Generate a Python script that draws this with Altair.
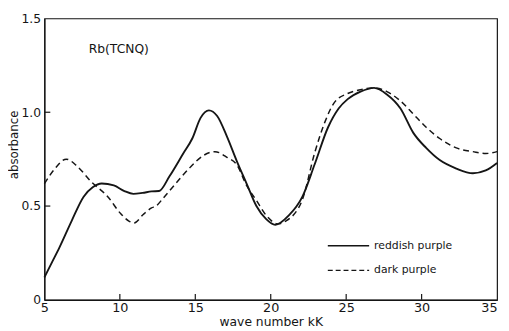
import altair as alt
import pandas as pd

# reddish purple (solid)
solid_x = [5.0, 5.5, 6.0, 6.8, 7.6, 8.2, 8.8, 9.6, 10.3, 10.9, 11.5, 12.1, 12.6, 13.3, 14.2, 14.8,
           15.35, 15.9, 16.45, 17.1, 17.75, 18.4, 19.05, 19.7, 20.3, 21.2, 22.1, 22.9, 23.8, 24.5,
           25.1, 25.95, 26.85, 27.7, 28.6, 29.45, 30.3, 31.2, 32.3, 33.4, 34.25, 35.0]
solid_y = [0.12, 0.20, 0.28, 0.42, 0.55, 0.60, 0.62, 0.61, 0.58, 0.565, 0.57, 0.578, 0.58, 0.66, 0.78, 0.86,
           0.97, 1.01, 0.98, 0.87, 0.74, 0.62, 0.50, 0.43, 0.40, 0.45, 0.55, 0.72, 0.92, 1.02,
           1.07, 1.11, 1.13, 1.095, 1.02, 0.89, 0.81, 0.745, 0.70, 0.675, 0.69, 0.73]

# dark purple (dashed)
dashed_x = [5.0, 5.7, 6.45, 7.2, 8.1, 9.2, 10.05, 10.6, 10.95, 11.55, 12.1, 12.4, 12.85, 13.7, 14.7,
            15.55, 16.3, 17.1, 17.75, 18.4, 19.05, 19.7, 20.5, 21.0, 22.1, 22.9, 23.6, 24.2, 25.1,
            25.95, 26.85, 27.7, 28.6, 29.45, 30.3, 31.2, 32.3, 33.4, 34.25, 35.0]
dashed_y = [0.62, 0.70, 0.75, 0.71, 0.63, 0.55, 0.46, 0.42, 0.41, 0.455, 0.49, 0.50, 0.54, 0.62, 0.71,
            0.77, 0.79, 0.76, 0.72, 0.61, 0.53, 0.45, 0.405, 0.42, 0.535, 0.78, 0.95, 1.05, 1.10,
            1.12, 1.13, 1.11, 1.06, 0.99, 0.92, 0.86, 0.81, 0.79, 0.78, 0.79]

x_ticks = [5, 10, 15, 20, 25, 30, 35]
y_ticks = [0, 0.5, 1.0, 1.5]
inner_x_ticks = [10, 15, 20, 25, 30]
inner_y_ticks = [0.5, 1.0]

series_names = ["reddish purple", "dark purple"]
label_text = "Rb(TCNQ)"

df_s = pd.DataFrame({"x": solid_x, "y": solid_y, "s": series_names[0]})
df_d = pd.DataFrame({"x": dashed_x, "y": dashed_y, "s": series_names[1]})

FONT = "DejaVu Sans"
INK = "#151515"

xscale = alt.Scale(domain=[5, 35], nice=False, zero=False)
yscale = alt.Scale(domain=[0, 1.5], nice=False)

xaxis = alt.Axis(values=x_ticks, title="wave number  kK", grid=False, ticks=False,
                 labelFontSize=13, labelPadding=2, titleFontSize=12.5, titleFontWeight="normal",
                 titlePadding=1, labelFont=FONT, titleFont=FONT, labelColor=INK, titleColor=INK,
                 domainColor=INK, domainWidth=1.2, labelFlush=False,
                 labelAlign={"condition": {"test": "datum.value == 35", "value": "right"},
                             "value": "center"})
yaxis = alt.Axis(values=y_ticks, title="absorbance", grid=False, ticks=False,
                 labelExpr="datum.value == 0 ? '0' : format(datum.value, '.1f')",
                 labelFontSize=12.5, labelPadding=4, titleFontSize=12, titleFontWeight="normal",
                 labelFont=FONT, titleFont=FONT, labelColor=INK, titleColor=INK,
                 domainColor=INK, domainWidth=1.2, titleX=-31, titleY=128, titleBaseline="middle",
                 titleAngle=270)

solid = alt.Chart(df_s).mark_line(color=INK, strokeWidth=1.9, interpolate="monotone").encode(
    x=alt.X("x:Q", scale=xscale, axis=xaxis),
    y=alt.Y("y:Q", scale=yscale, axis=yaxis),
)
dashed = alt.Chart(df_d).mark_line(color=INK, strokeWidth=1.5, strokeDash=[6, 4],
                                    interpolate="monotone").encode(
    x=alt.X("x:Q", scale=xscale),
    y=alt.Y("y:Q", scale=yscale),
)

# inner tick marks
xt = alt.Chart(pd.DataFrame({"t": inner_x_ticks})).mark_rule(color=INK, strokeWidth=1.2).encode(
    x=alt.X("t:Q", scale=xscale), y=alt.value(286), y2=alt.value(280))
yt = alt.Chart(pd.DataFrame({"t": inner_y_ticks})).mark_rule(color=INK, strokeWidth=1.2).encode(
    y=alt.Y("t:Q", scale=yscale), x=alt.value(0), x2=alt.value(6))

title_txt = alt.Chart(pd.DataFrame({"t": [label_text]})).mark_text(
    align="left", baseline="middle", fontSize=12.5, font=FONT, color=INK).encode(
    text="t:N", x=alt.value(45), y=alt.value(31))

# manual legend
leg_solid = alt.Chart(pd.DataFrame({"s": [series_names[0]]})).mark_rule(
    color=INK, strokeWidth=1.6).encode(x=alt.value(288), x2=alt.value(330), y=alt.value(231))
leg_dash = alt.Chart(pd.DataFrame({"s": [series_names[1]]})).mark_rule(
    color=INK, strokeWidth=1.3, strokeDash=[5, 3]).encode(x=alt.value(288), x2=alt.value(330), y=alt.value(256))
leg_t1 = alt.Chart(pd.DataFrame({"s": [series_names[0]]})).mark_text(
    align="left", baseline="middle", fontSize=11, font=FONT, color=INK, fontWeight=500).encode(
    text="s:N", x=alt.value(335), y=alt.value(231))
leg_t2 = alt.Chart(pd.DataFrame({"s": [series_names[1]]})).mark_text(
    align="left", baseline="middle", fontSize=11, font=FONT, color=INK, fontWeight=500).encode(
    text="s:N", x=alt.value(335), y=alt.value(256))

chart = alt.layer(solid, dashed, xt, yt, title_txt, leg_solid, leg_dash, leg_t1, leg_t2).properties(
    width=460, height=286,
    autosize=alt.AutoSizeParams(type="none"),
    padding={"left": 37, "top": 8, "right": 4, "bottom": 27},
    background="white",
).configure_view(stroke=INK, strokeWidth=1.2)

chart.save("out.html", embed_options={"renderer": "svg", "actions": False})
